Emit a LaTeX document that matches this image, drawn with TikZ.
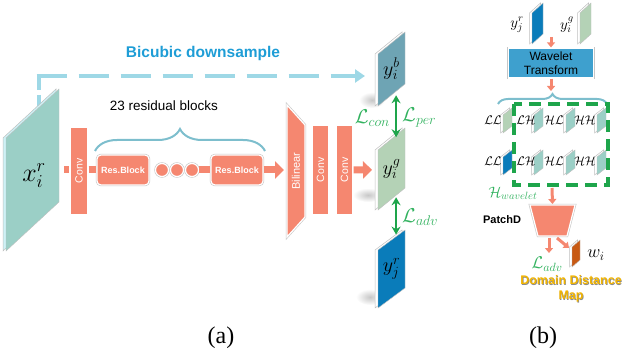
\RequirePackage{fix-cm}
\documentclass[tikz,border=0pt]{standalone}
\usepackage{fontspec}
\setmainfont{Liberation Serif}
\setsansfont{Liberation Sans}
\usetikzlibrary{arrows.meta,decorations.pathreplacing,calc}
\definecolor{salm}{RGB}{245,135,112}
\definecolor{tealc}{RGB}{155,207,198}
\definecolor{rimcyan}{RGB}{205,242,246}
\definecolor{ybc}{RGB}{110,164,180}
\definecolor{ygc}{RGB}{180,210,182}
\definecolor{yrc}{RGB}{10,124,186}
\definecolor{dashc}{RGB}{158,216,230}
\definecolor{bicc}{RGB}{30,157,214}
\definecolor{greenA}{RGB}{30,165,75}
\definecolor{greenL}{RGB}{50,178,95}
\definecolor{wcol}{RGB}{62,160,206}
\definecolor{wcolr}{RGB}{200,90,20}
\definecolor{goldc}{RGB}{242,180,0}
\definecolor{bracec}{RGB}{125,190,205}
% #1 name, (#2,#3) top-right, #4 width, #5 height, #6 slope, #7 fill, #8 rim offset, #9 rim fill
\newcommand\mypg[9]{%
  \coordinate (#1-tr) at (#2,#3);
  \coordinate (#1-tl) at ({#2-#4},{#3+#6});
  \coordinate (#1-bl) at ({#2-#4},{#3+#6+#5});
  \coordinate (#1-br) at (#2,{#3+#5});
  \coordinate (#1) at ({#2-#4/2},{#3+#6/2+#5/2});
  \draw[pgrim, fill=#9] ($(#1-tr)+(-#8,0)$) -- ($(#1-tl)+(-#8,0)$) -- ($(#1-bl)+(-#8,0)$) -- ($(#1-br)+(-#8,0)$) -- cycle;
  \draw[pgedge, fill=#7] (#1-tr) -- (#1-tl) -- (#1-bl) -- (#1-br) -- cycle;
}
\tikzset{
  rimmed/.style={draw=white, line width=1.2pt, preaction={draw=black!22, line width=2.4pt}},
  sbox/.style={rimmed, fill=salm, inner sep=0pt},
  rbox/.style={rimmed, fill=salm, rounded corners=4pt, text=white, inner sep=0pt,
    font=\sffamily\bfseries\fontsize{9}{9}\selectfont},
  rotlabel/.style={rotate=90, text=white, inner sep=0pt, font=\sffamily\fontsize{10.5}{10.5}\selectfont},
  dotc/.style={circle, rimmed, fill=salm, minimum size=13pt, inner sep=0pt},
  link/.style={draw=salm, line width=7pt},
  barrow/.style={draw=salm, line width=7pt, -{Triangle[length=9pt,width=17pt]}},
  sarrow/.style={draw=salm, line width=3pt, -{Triangle[length=5pt,width=8pt]}},
  sshape/.style={rimmed, fill=salm},
  pgrim/.style={draw=black!25, line width=0.5pt},
  pgedge/.style={draw=black!25, line width=0.4pt},
  garrow/.style={draw=greenA, line width=2.5pt, {Stealth[length=8pt,width=9pt]}-{Stealth[length=8pt,width=9pt]}},
  glabel/.style={text=greenL, inner sep=1pt},
  bicline/.style={draw=dashc, line width=4pt},
  bracest/.style={draw=bracec, line width=2pt, decorate},
  wbox/.style={rimmed, fill=wcol, inner sep=0pt, align=center,
    font=\sffamily\fontsize{12}{14}\selectfont},
  gdash/.style={draw=greenA, line width=3.5pt, dash pattern=on 12pt off 7pt},
  captext/.style={font=\rmfamily\fontsize{24}{24}\selectfont},
  softshadow/.style={inner color=black!22, outer color=white}
}
\begin{document}
\begin{tikzpicture}[x=1pt,y=-1pt]
\useasboundingbox (0,0) rectangle (623,358);

% ---------------- (a) ----------------
% bicubic dashed path
\coordinate (dstart) at (38.5,112);
\coordinate (dcorner) at (38.5,76);
\coordinate (dend) at (365,76);
\draw[bicline, dash pattern=on 14pt off 5pt on 40pt off 10pt] (dcorner) -- (dstart);
\draw[bicline, dash pattern=on 30pt off 12pt, -{Triangle[length=10pt,width=13pt]}] ($(dcorner)+(-2,0)$) -- (dend);
\node[text=bicc, font=\sffamily\bfseries\fontsize{15.5}{15.5}\selectfont] (bic) at (203,53) {Bicubic downsample};

% input image
\mypg{xir}{59}{89}{53}{113}{49}{tealc}{3}{rimcyan}
\node[font=\fontsize{26}{26}\selectfont] (xirl) at (34,176) {$x_i^r$};

% residual path
\node[font=\sffamily\fontsize{13.5}{13.5}\selectfont] (nres) at (164,106) {23 residual blocks};
\coordinate (brL) at (95,151);
\coordinate (brR) at (265,151);
\draw[bracest, decoration={brace, amplitude=22pt}] (brL) -- (brR);

\node[sbox, minimum width=18pt, minimum height=88pt] (conv1) at (79,171) {};
\node[rotlabel] (conv1t) at (conv1) {Conv};
\node[rbox, minimum width=52pt, minimum height=30pt] (rb1) at (123,170) {Res.Block};
\node[dotc] (c1) at (162,170) {};
\node[dotc] (c2) at (177,170) {};
\node[dotc] (c3) at (192,170) {};
\node[rbox, minimum width=52pt, minimum height=30pt] (rb2) at (237,170) {Res.Block};
\coordinate (stub0) at (64,170);
\draw[link] (stub0) -- (conv1.west |- stub0);
\draw[link] (conv1.east |- rb1.west) -- (rb1.west);
\draw[link] (c3.east) -- (rb2.west);

% bilinear
\coordinate (bil1) at (287,105);
\coordinate (bil2) at (305,125);
\coordinate (bil3) at (305,217);
\coordinate (bil4) at (287,237);
\coordinate (bil) at (296,171);
\coordinate (bilw) at (287,170);
\draw[sshape] (bil1) -- (bil2) -- (bil3) -- (bil4) -- cycle;
\node[rotlabel, font=\sffamily\fontsize{11}{11}\selectfont] (bilt) at (bil) {Bilinear};
\draw[barrow] (rb2.east) -- ($(bilw)+(-3,0)$);

\node[sbox, minimum width=17pt, minimum height=90pt] (conv2) at (320.5,170) {};
\node[rotlabel] (conv2t) at (conv2) {Conv};
\node[sbox, minimum width=17pt, minimum height=90pt] (conv3) at (344.5,170) {};
\node[rotlabel] (conv3t) at (conv3) {Conv};

% shadows
\shade[softshadow] (372,100) ellipse (13 and 8);
\shade[softshadow] (368,195) ellipse (15 and 7);
\shade[softshadow] (370,297) ellipse (14 and 8);

% output images
\mypg{yb}{405}{32}{27}{52}{22}{ybc}{3}{white}
\mypg{yg}{405}{128}{27}{60}{22}{ygc}{3}{white}
\mypg{yr}{405}{230}{27}{58}{20}{yrc}{3}{white}
\node[font=\fontsize{20}{20}\selectfont] (ybl) at (yb) {$y_i^b$};
\node[font=\fontsize{20}{20}\selectfont] (ygl) at (yg) {$y_i^g$};
\node[font=\fontsize{20}{20}\selectfont] (yrl) at (yr) {$y_j^r$};

\draw[barrow] (conv3.east) -- ($(yg-tl)!0.33!(yg-bl)+(-6,0)$);

\draw[garrow] ($(yb-bl)!0.67!(yb-br)+(0,4)$) -- ($(yg-tl)!0.67!(yg-tr)+(0,2)$);
\draw[garrow] ($(yg-bl)!0.67!(yg-br)+(0,2)$) -- ($(yr-tl)!0.67!(yr-tr)+(0,-2)$);
\node[glabel, anchor=east, font=\fontsize{20}{20}\selectfont] (lcon) at (391,118) {$\mathcal{L}_{con}$};
\node[glabel, anchor=west, font=\fontsize{20}{20}\selectfont] (lper) at (401,118) {$\mathcal{L}_{per}$};
\node[glabel, anchor=west, font=\fontsize{20}{20}\selectfont] (ladv) at (401,217) {$\mathcal{L}_{adv}$};

\node[captext] (capa) at (221,338) {(a)};

% ---------------- (b) ----------------
\mypg{yrb}{543}{3}{11}{31}{10}{yrc}{2.5}{white}
\mypg{ygb}{591}{3}{11}{31}{10}{ygc}{2.5}{white}
\node[font=\fontsize{15}{15}\selectfont] (yrbl) at (517,25) {$y_j^r$};
\node[font=\fontsize{15}{15}\selectfont] (ygbl) at (567,25) {$y_i^g$};

\node[wbox, minimum width=85pt, minimum height=30pt] (wt) at (551,63) {Wavelet\\Transform};
\coordinate (wa0) at (551,37);
\draw[sarrow] (wa0) -- (wt.north);
\coordinate (brtip) at (551,91);
\draw[sarrow] (wt.south) -- (brtip);
\coordinate (bbL) at (498,104);
\coordinate (bbR) at (607,104);
\draw[bracest, decoration={brace, amplitude=10pt}] (bbL) -- (bbR);

% wavelet sub-bands
\mypg{w1}{512}{108}{9}{18}{7}{ygc}{2.5}{white}
\mypg{w2}{543}{108}{9}{18}{7}{tealc}{2.5}{white}
\mypg{w3}{575}{108}{9}{18}{7}{tealc}{2.5}{white}
\mypg{w4}{606}{108}{9}{18}{7}{tealc}{2.5}{white}
\mypg{v1}{512}{150}{9}{18}{7}{yrc}{2.5}{white}
\mypg{v2}{543}{150}{9}{18}{7}{tealc}{2.5}{white}
\mypg{v3}{575}{150}{9}{18}{7}{tealc}{2.5}{white}
\mypg{v4}{606}{150}{9}{18}{7}{tealc}{2.5}{white}
\tikzset{band/.style={inner sep=0pt, font=\fontsize{12.5}{12.5}\selectfont}}
\node[band] (t1) at (493,120) {$\mathcal{LL}$};
\node[band] (t2) at (526,120) {$\mathcal{LH}$};
\node[band] (t3) at (554,120) {$\mathcal{HL}$};
\node[band] (t4) at (585,120) {$\mathcal{HH}$};
\node[band] (s1) at (493,161) {$\mathcal{LL}$};
\node[band] (s2) at (526,161) {$\mathcal{LH}$};
\node[band] (s3) at (554,161) {$\mathcal{HL}$};
\node[band] (s4) at (585,161) {$\mathcal{HH}$};
\coordinate (gd1) at (514,104);
\coordinate (gd2) at (608,185);
\draw[gdash] (gd1) rectangle (gd2);
\node[glabel, font=\fontsize{15}{15}\selectfont] (hw) at (513,193) {$\mathcal{H}_{wavelet}$};

% PatchD
\coordinate (pd1) at (530,205);
\coordinate (pd2) at (575,205);
\coordinate (pd3) at (567,236);
\coordinate (pd4) at (538,236);
\coordinate (pd) at (552.5,220);
\draw[sshape] (pd1) -- (pd2) -- (pd3) -- (pd4) -- cycle;
\coordinate (pa0) at (552,188);
\draw[sarrow] (pa0) -- ($(pd1)!0.5!(pd2)+(0,-1)$);
\node[font=\sffamily\bfseries\fontsize{11}{11}\selectfont] (pdl) at (502,220) {PatchD};
\coordinate (pdb1) at (549,238);
\coordinate (pdb2) at (549,253);
\coordinate (pdc1) at (557,238);
\coordinate (pdc2) at (569,248);
\draw[sarrow] (pdb1) -- (pdb2);
\draw[sarrow] (pdc1) -- (pdc2);
\node[glabel, font=\fontsize{17}{17}\selectfont] (ladvb) at (547,264) {$\mathcal{L}_{adv}$};
\mypg{wi}{580}{240}{8}{20}{7}{wcolr}{2.5}{white}
\node[font=\fontsize{18}{18}\selectfont] (wil) at (596,255) {$w_i$};
\node[align=center, text=black!45, font=\sffamily\bfseries\fontsize{12.5}{15}\selectfont] (ddms) at (571.7,289.7) {Domain Distance\\Map};
\node[align=center, text=goldc, font=\sffamily\bfseries\fontsize{12.5}{15}\selectfont] (ddm) at (571,289) {Domain Distance\\Map};

\node[captext] (capb) at (543,338) {(b)};
\end{tikzpicture}
\end{document}
